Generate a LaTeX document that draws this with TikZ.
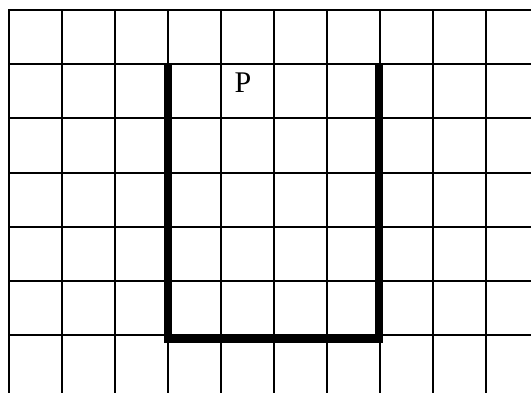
\documentclass[tikz,border=0pt]{standalone}
\usepackage{fontspec}
\setmainfont{Liberation Serif}
\begin{document}
\begin{tikzpicture}[x=1pt,y=-1pt,
  gridline/.style={line width=2pt,black},
  thickline/.style={line width=8pt,black,line join=miter},
  label/.style={font=\fontsize{30}{34}\selectfont,inner sep=0pt}]
\useasboundingbox (0,0) rectangle (531,392);
\begin{scope}
\clip (0,0) rectangle (531,392);
\foreach \k in {0,...,9} {
  \draw[gridline] ({9+53*\k},9) -- ({9+53*\k},394);
}
\foreach \k in {0,...,6} {
  \draw[gridline] (8,{10+54.17*\k}) -- (533,{10+54.17*\k});
}
\end{scope}
\coordinate (tl) at (167.5,64);
\coordinate (bl) at (167.5,339);
\coordinate (br) at (379,339);
\coordinate (tr) at (379,64);
\draw[thickline] (tl) -- (bl) -- (br) -- (tr);
\node[label] (p) at (243,83) {P};
\end{tikzpicture}
\end{document}
